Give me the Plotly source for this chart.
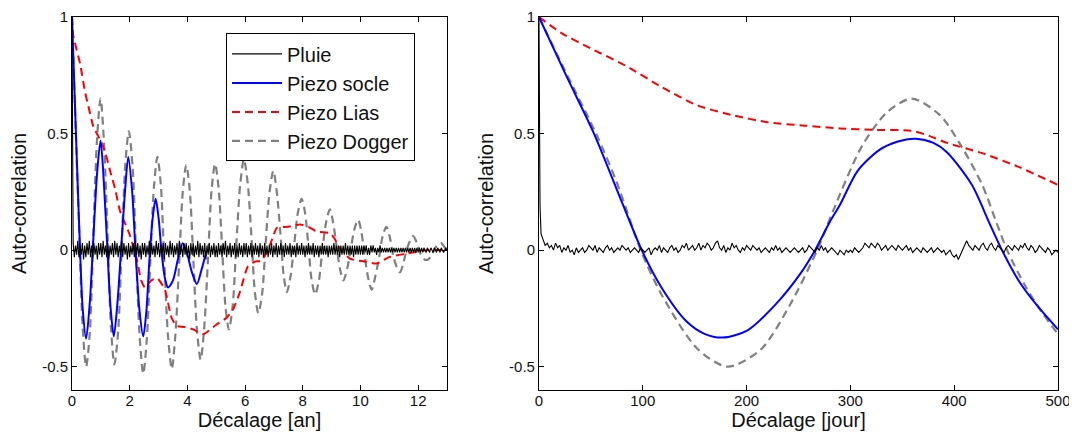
import numpy as np
import plotly.graph_objects as go
from plotly.subplots import make_subplots

# ---------------- Left panel (lag in years) ----------------
# Pluie: lag grid 0..13 by 0.04 yr, values in hundredths
pluie_an_step = 0.04
pluie_an_centi = [
    100, 3, -3, 2, -2, 4, -3, 2, -2, 3, -4, 2, -3, 3, -2, 4, -3, 2, -3, 3, -2, 2, -4, 3, -2,
    3, -3, 4, -2, 2, -3, 3, -4, 2, -2, 3, -3, 4, -2, 3, -3, 2, -2, 4, -3, 3, -2, 2, -4, 3,
    -3, 2, -2, 3, -3, 4, -2, 3, -3, 2, -4, 3, -2, 3, -3, 2, -2, 4, -3, 3, -2, 2, -3, 4, -2,
    3, -3, 2, -2, 3, -4, 3, -2, 2, -3, 4, -2, 3, -3, 2, -2, 3, -3, 4, -2, 2, -3, 3, -2, 3,
    -3, 2, -4, 3, -2, 3, -3, 2, -2, 4, -3, 3, -2, 2, -3, 3, -4, 2, -2, 3, -3, 2, -2, 3, -3,
    2, -3, 3, -2, 2, -3, 3, -2, 4, -3, 2, -2, 3, -3, 2, -2, 3, -3, 2, -3, 3, -2, 2, -3, 3,
    -2, 3, -3, 2, -2, 3, -3, 2, -2, 3, -2, 2, -3, 3, -2, 2, -3, 3, -2, 2, -3, 2, -2, 3, -3,
    2, -2, 3, -3, 2, -2, 3, -2, 2, -3, 3, -2, 2, -2, 3, -3, 2, -2, 2, -3, 3, -2, 2, -2, 3,
    -2, 2, -3, 2, -2, 3, -2, 2, -2, 3, -3, 2, -2, 2, -3, 2, -2, 3, -2, 2, -2, 2, -3, 2, -2,
    2, -2, 3, -2, 2, -2, 2, -3, 2, -2, 2, -2, 3, -2, 2, -2, 2, -2, 2, -3, 2, -2, 2, -2, 2,
    -2, 2, -2, 2, -1, 2, -2, 1, -2, 2, -1, 2, -1, 1, -2, 1, -1, 2, -1, 1, -1, 1, -1, 1, -1,
    1, -1, 1, -1, 1, -1, 1, -1, 1, -1, 1, -1, 1, -1, 1, -1, 1, -1, 1, -1, 1, -1, 1, -1, 1,
    -1, 1, -1, 1, -1, 1, 0, -1, 1, 0, -1, 1, 0, -1, 1, 0, -1, 1, 0, -1, 1, 0, -1, 0, 1,
    0,
]

socle_an_x = [0, 0.12, 0.25, 0.37, 0.49, 0.62, 0.74, 0.87, 0.99, 1.1, 1.22, 1.34, 1.45, 1.58, 1.7, 1.83,
              1.95, 2.08, 2.2, 2.34, 2.47, 2.58, 2.68, 2.8, 2.9, 3.0, 3.1, 3.22, 3.33, 3.5, 3.67, 3.84,
              4.0, 4.17, 4.33, 4.5, 4.67]
socle_an_y = [1.0, 0.56, 0.10, -0.25, -0.38, -0.22, 0.05, 0.33, 0.47, 0.30, 0.02, -0.25, -0.37, -0.22, 0.0, 0.24,
              0.40, 0.26, 0.0, -0.26, -0.37, -0.26, -0.05, 0.14, 0.22, 0.14, 0.0, -0.12, -0.16, -0.13, -0.04, 0.03,
              -0.02, -0.10, -0.145, -0.08, 0.0]

lias_an_x = [0, 0.03, 0.1, 0.28, 0.45, 0.6, 0.74, 0.97, 1.15, 1.32, 1.5, 1.66, 2.0, 2.24, 2.4, 2.53, 2.75,
             2.95, 3.22, 3.45, 3.63, 3.9, 4.2, 4.55, 5.0, 5.36, 5.6, 5.82, 6.1, 6.33, 6.55, 6.75, 6.95,
             7.1, 7.5, 7.9, 8.2, 8.48, 8.94, 9.1, 9.29, 9.64, 10.2, 10.56, 11.0, 11.6, 12.3, 13.0]
lias_an_y = [1.0, 0.93, 0.89, 0.80, 0.68, 0.60, 0.53, 0.475, 0.42, 0.34, 0.26, 0.17, 0.066, -0.035, -0.13, -0.16, -0.13,
             -0.12, -0.17, -0.29, -0.325, -0.33, -0.34, -0.36, -0.32, -0.29, -0.25, -0.18, -0.07, -0.05, -0.045, -0.01, 0.05,
             0.095, 0.10, 0.11, 0.10, 0.08, 0.073, 0.05, 0.007, -0.037, -0.05, -0.057, -0.03, -0.015, 0.0, 0.0]

dogger_an_x = [0, 0.12, 0.25, 0.37, 0.49, 0.62, 0.74, 0.87, 0.99, 1.11, 1.23, 1.35, 1.47, 1.6, 1.72, 1.85,
               1.97, 2.1, 2.22, 2.35, 2.47, 2.59, 2.71, 2.84, 2.96, 3.08, 3.2, 3.33, 3.46, 3.58, 3.71, 3.84,
               3.96, 4.08, 4.21, 4.33, 4.46, 4.58, 4.71, 4.84, 4.96, 5.08, 5.2, 5.32, 5.44, 5.57, 5.7, 5.83,
               5.96, 6.09, 6.22, 6.34, 6.46, 6.59, 6.72, 6.85, 6.98, 7.1, 7.22, 7.34, 7.45, 7.58, 7.7, 7.83,
               7.96, 8.08, 8.2, 8.31, 8.43, 8.56, 8.68, 8.81, 8.94, 9.05, 9.17, 9.29, 9.41, 9.54, 9.66, 9.79,
               9.92, 10.03, 10.15, 10.27, 10.39, 10.52, 10.65, 10.77, 10.9, 11.01, 11.13, 11.25, 11.37, 11.48,
               11.6, 11.72, 11.83, 11.96, 12.1, 12.22, 12.35, 12.47, 12.6, 12.7, 12.8, 12.9, 13.0]
dogger_an_y = [1.0, 0.55, 0.08, -0.33, -0.50, -0.35, 0.07, 0.48, 0.65, 0.46, 0.08, -0.33, -0.49, -0.35, 0.01, 0.37,
               0.51, 0.36, -0.01, -0.38, -0.53, -0.39, -0.06, 0.27, 0.40, 0.28, -0.05, -0.37, -0.51, -0.37, -0.07, 0.25,
               0.365, 0.26, -0.05, -0.34, -0.47, -0.34, -0.05, 0.26, 0.37, 0.27, 0.02, -0.24, -0.34, -0.24, 0.03, 0.28,
               0.39, 0.29, 0.06, -0.18, -0.27, -0.19, 0.04, 0.25, 0.34, 0.25, 0.08, -0.11, -0.18, -0.11, 0.02, 0.16,
               0.22, 0.16, 0.01, -0.13, -0.19, -0.13, 0.0, 0.12, 0.175, 0.12, 0.02, -0.08, -0.13, -0.08, 0.0, 0.09,
               0.13, 0.08, -0.03, -0.12, -0.17, -0.11, -0.03, 0.06, 0.10, 0.06, -0.02, -0.07, -0.095, -0.06,
               0.0, 0.04, 0.06, 0.03, -0.02, -0.04, -0.04, -0.02, 0.01, 0.025, 0.03, 0.015, 0.0]

# ---------------- Right panel (lag in days) ----------------
pluie_jour_head_x = [0, 1]
pluie_jour_head_y = [1.0, 0.19]
pluie_jour_step = 2
pluie_jour_centi = [
    7, 4, 2, 3, 1, 2, 0, 3, 1, 2, -1, 1, 0, 2, -1, 0, -2, 1, -1, 0, 1, -1, 0, 2, 1,
    0, 2, -1, 1, 0, -1, 1, 2, 0, 1, -1, 0, 1, 0, 2, 1, 0, 1, -1, 0, 1, 0, -1, 1, 0,
    -1, 0, 1, -2, 0, 1, 0, 2, -1, 1, 0, -1, 1, 2, 0, 1, -1, 0, 2, 1, 3, 0, 1, 2, 0,
    1, 3, 0, 2, 1, 3, 2, 0, 1, 3, 4, 1, 0, 2, -1, 1, 0, 3, 1, 2, 0, -1, 1, 0, 2,
    1, 0, 2, 1, 0, 1, -1, 0, 1, 0, -1, 1, 0, 2, 0, 1, -1, 0, 1, 0, -1, 0, 1, 0, -1,
    0, 1, -1, 0, 2, 1, 0, -1, 1, 0, 2, 0, 1, -1, 0, 1, 0, -1, -2, 0, -1, -2, 0, -1, 0,
    -1, 1, 0, -1, 0, 1, 3, 2, 1, 3, 2, 1, 3, 2, 0, 1, 2, 0, 1, 2, 1, 0, 2, 1, 0,
    1, 2, 0, 1, -1, 0, 1, 0, -1, 1, 0, -1, 0, 1, -1, 0, 1, 0, -1, 0, -2, -1, 0, -2, -3,
    -2, -4, -2, 0, 2, 4, 2, 1, 0, 2, 1, 0, 2, 3, 1, 0, 2, 3, 1, 0, 2, 1, 0, -1, 1,
    2, 1, 0, 2, 1, 0, 2, 1, 3, 1, 0, 2, 1, -1, 0, 2, 1, 0, -1, 1, 0, -2, -1, 0, -1,
]

socle_jour_x = [0, 25, 53, 75, 99, 118, 142, 160, 177, 201, 228, 252, 266, 280, 290, 307, 328, 345, 363, 380,
                393, 417, 434, 446, 462, 479, 500]
socle_jour_y = [1.0, 0.76, 0.5, 0.26, 0.0, -0.16, -0.305, -0.36, -0.375, -0.344, -0.233, -0.10, 0.0, 0.12, 0.195,
                0.34, 0.43, 0.465, 0.478, 0.46, 0.42, 0.28, 0.115, 0.0, -0.13, -0.233, -0.34]

lias_jour_x = [0, 22, 50, 84, 118, 153, 187, 221, 256, 290, 324, 359, 376, 393, 427, 462, 500]
lias_jour_y = [1.0, 0.93, 0.865, 0.79, 0.70, 0.62, 0.578, 0.548, 0.534, 0.522, 0.516, 0.512, 0.49, 0.46, 0.416,
               0.357, 0.28]

dogger_jour_x = [0, 25, 55, 75, 98, 118, 153, 182, 214, 242, 268, 283, 311, 335, 359, 386, 407, 427, 441, 451,
                 468, 485, 500]
dogger_jour_y = [1.0, 0.77, 0.5, 0.29, 0.0, -0.19, -0.425, -0.50, -0.425, -0.233, 0.0, 0.165, 0.445, 0.59, 0.65,
                 0.58, 0.445, 0.28, 0.115, 0.0, -0.15, -0.27, -0.36]

series_names = ["Pluie", "Piezo socle", "Piezo Lias", "Piezo Dogger"]
yticks = [-0.5, 0, 0.5, 1]
ytick_text = ["-0.5", "0", "0.5", "1"]
xticks_an = [0, 2, 4, 6, 8, 10, 12]
xticks_jour = [0, 100, 200, 300, 400, 500]

# ---------------- build figure ----------------
pluie_an_x = np.arange(len(pluie_an_centi)) * pluie_an_step
pluie_an_y = np.array(pluie_an_centi) / 100.0
pluie_j_x = list(pluie_jour_head_x) + list(2 + np.arange(len(pluie_jour_centi)) * pluie_jour_step)
pluie_j_y = list(pluie_jour_head_y) + list(np.array(pluie_jour_centi) / 100.0)

DASH = "8px,5px"
GRAY = "#808080"

fig = make_subplots(rows=1, cols=2, horizontal_spacing=0.0933)

def add_panel(col, px, py, sx, sy, lx, ly, dx, dy, show):
    fig.add_trace(go.Scatter(x=dx, y=dy, mode="lines", name=series_names[3], showlegend=show,
                             line=dict(color=GRAY, width=2.2, dash=DASH, shape="spline", smoothing=0.8)),
                  row=1, col=col)
    fig.add_trace(go.Scatter(x=lx, y=ly, mode="lines", name=series_names[2], showlegend=show,
                             line=dict(color="#ff0000", width=2, dash=DASH, shape="spline", smoothing=0.6)),
                  row=1, col=col)
    fig.add_trace(go.Scatter(x=sx, y=sy, mode="lines", name=series_names[1], showlegend=show,
                             line=dict(color="#0000ff", width=2, shape="spline", smoothing=0.8)),
                  row=1, col=col)
    fig.add_trace(go.Scatter(x=px, y=py, mode="lines", name=series_names[0], showlegend=show,
                             line=dict(color="#000000", width=1.1)),
                  row=1, col=col)

add_panel(1, pluie_an_x, pluie_an_y, socle_an_x, socle_an_y, lias_an_x, lias_an_y,
          dogger_an_x, dogger_an_y, True)
add_panel(2, pluie_j_x, pluie_j_y, socle_jour_x, socle_jour_y, lias_jour_x, lias_jour_y,
          dogger_jour_x, dogger_jour_y, False)

FONT = "Liberation Sans, Arial, sans-serif"
axis_common = dict(showline=True, linecolor="#000000", linewidth=1, mirror="ticks",
                   ticks="inside", ticklen=5, tickwidth=1, tickcolor="#000000",
                   showgrid=False, zeroline=False, automargin=False,
                   tickfont=dict(family=FONT, size=15, color="#111111"))

fig.update_xaxes(**axis_common)
fig.update_yaxes(**axis_common)
fig.update_xaxes(ticklabelstandoff=-3)
fig.update_xaxes(range=[0, 13], tickvals=xticks_an, ticktext=[str(v) for v in xticks_an],
                 title=dict(text="Décalage [an]", font=dict(family=FONT, size=20, color="#111111"), standoff=0),
                 row=1, col=1)
fig.update_xaxes(range=[0, 500], tickvals=xticks_jour, ticktext=[str(v) for v in xticks_jour],
                 title=dict(text="Décalage [jour]", font=dict(family=FONT, size=20, color="#111111"), standoff=0),
                 row=1, col=2)
for c in (1, 2):
    fig.update_yaxes(range=[-0.6, 1], tickvals=yticks, ticktext=ytick_text,
                     title=dict(text="Auto-correlation", font=dict(family=FONT, size=20, color="#111111"),
                                standoff=10),
                     row=1, col=c)

# The page body has an 8px default margin, so the figure is sized to fit the window.
fig.update_layout(
    width=1069, height=424,
    margin=dict(l=64, r=19, t=9, b=42),
    paper_bgcolor="white", plot_bgcolor="white",
    font=dict(family=FONT, color="#111111"),
    legend=dict(x=0.1562, y=0.956, xanchor="left", yanchor="top",
                traceorder="reversed", bgcolor="white", bordercolor="#000000", borderwidth=1,
                font=dict(family=FONT, size=20, color="#111111"), itemwidth=50,
                tracegroupgap=0),
)
fig.update_xaxes(domain=[0, 0.3803], row=1, col=1)
fig.update_xaxes(domain=[0.4736, 1.0], row=1, col=2)

fig.write_html("out.html")
